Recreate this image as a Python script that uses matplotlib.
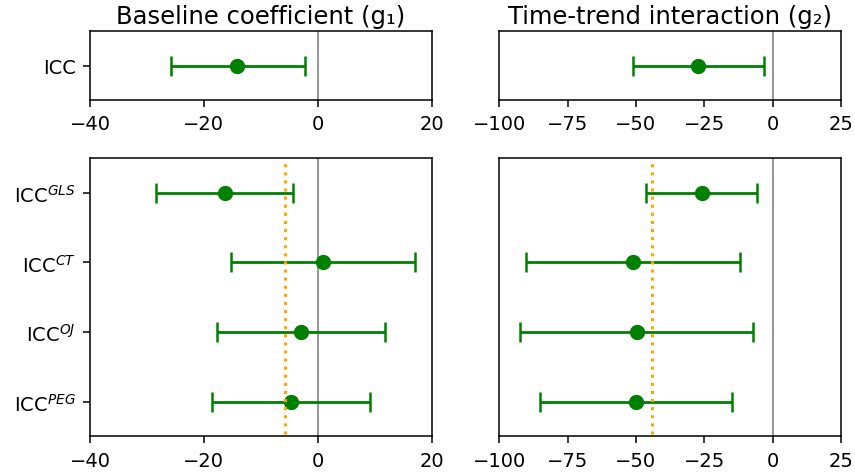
import matplotlib
matplotlib.use("Agg")
import matplotlib.pyplot as plt

# Data
top_labels = ["ICC"]
top_g1 = [-14.2]
top_g1_lo = [-25.8]
top_g1_hi = [-2.3]
top_g2 = [-27.3]
top_g2_lo = [-51.1]
top_g2_hi = [-3.0]

bot_labels = ["ICC$^{GLS}$", "ICC$^{CT}$", "ICC$^{OJ}$", "ICC$^{PEG}$"]
bot_g1 = [-16.3, 1.0, -2.9, -4.6]
bot_g1_lo = [-28.4, -15.2, -17.6, -18.5]
bot_g1_hi = [-4.35, 17.1, 11.9, 9.2]
bot_g2 = [-26.0, -51.1, -49.7, -50.0]
bot_g2_lo = [-46.5, -90.2, -92.5, -85.1]
bot_g2_hi = [-5.7, -11.95, -7.3, -14.9]

ref_g1 = -5.75
ref_g2 = -44.3

titles = ["Baseline coefficient (g\u2081)", "Time-trend interaction (g\u2082)"]
xlims = [(-40, 20), (-100, 25)]
xticks = [[-40, -20, 0, 20], [-100, -75, -50, -25, 0, 25]]

fig = plt.figure(figsize=(8.55, 4.77), dpi=100)
FS = 14

# axes rectangles in figure fractions (left, bottom, width, height)
W, H = 855, 477
def rect(x0, y0, x1, y1):
    return [x0 / W, 1 - y1 / H, (x1 - x0) / W, (y1 - y0) / H]

ax_tl = fig.add_axes(rect(90, 32, 431.5, 101))
ax_tr = fig.add_axes(rect(499.3, 32, 841, 101))
ax_bl = fig.add_axes(rect(90, 159, 431.5, 437.3))
ax_br = fig.add_axes(rect(499.3, 159, 841, 437.3))

green = "green"

def draw(ax, vals, lo, hi, labels, xlim, xt, ref=None, show_y=True):
    n = len(vals)
    ys = list(range(n))
    xerr = [[v - l for v, l in zip(vals, lo)], [h - v for v, h in zip(vals, hi)]]
    ax.axvline(0, color="gray", lw=1.5, alpha=0.8, zorder=1)
    if ref is not None:
        ax.axvline(ref, color="orange", lw=2.2, ls=":", ymin=0.01, ymax=0.99, zorder=3)
    ax.errorbar(vals, ys, xerr=xerr, fmt="o", color=green, ms=10, lw=2,
                capsize=7.5, capthick=1.8, zorder=2)
    ax.set_xlim(*xlim)
    ax.set_xticks(xt)
    ax.set_ylim(n - 0.5, -0.5)
    ax.set_yticks(ys)
    if show_y:
        ax.set_yticklabels(labels)
    else:
        ax.set_yticks([])
    ax.tick_params(labelsize=FS, length=5.3, width=1.1, pad=5)
    for s in ax.spines.values():
        s.set_linewidth(1.1)

draw(ax_tl, top_g1, top_g1_lo, top_g1_hi, top_labels, xlims[0], xticks[0])
draw(ax_tr, top_g2, top_g2_lo, top_g2_hi, top_labels, xlims[1], xticks[1], show_y=False)
draw(ax_bl, bot_g1, bot_g1_lo, bot_g1_hi, bot_labels, xlims[0], xticks[0], ref=ref_g1)
draw(ax_br, bot_g2, bot_g2_lo, bot_g2_hi, bot_labels, xlims[1], xticks[1], ref=ref_g2, show_y=False)

ax_tl.set_title(titles[0], fontsize=17.5, pad=6)
ax_tr.set_title(titles[1], fontsize=17.5, pad=6)

fig.savefig("out.png", dpi=100)
